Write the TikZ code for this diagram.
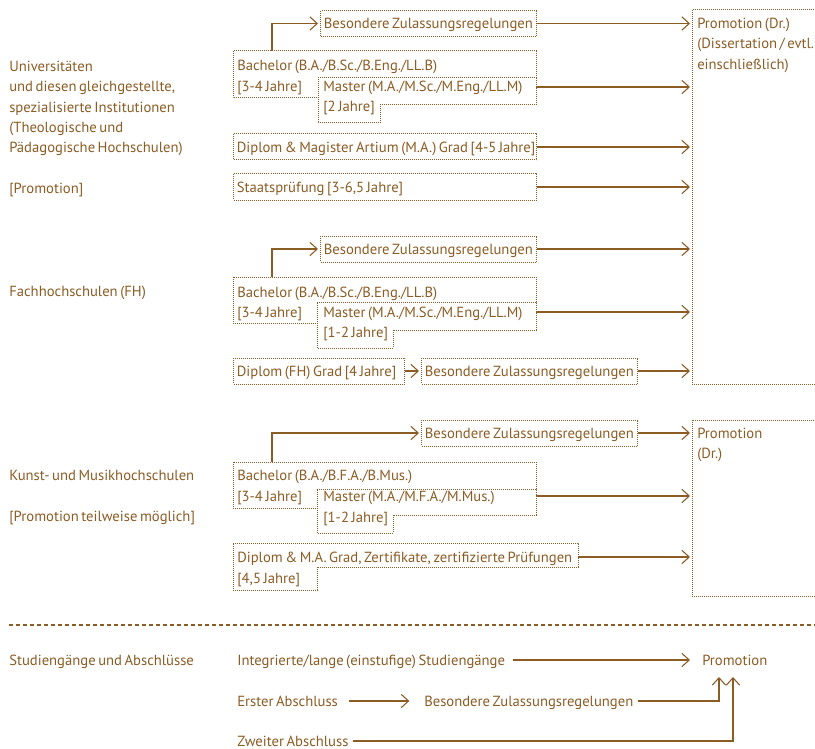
\documentclass[tikz,border=0pt]{standalone}
\usepackage{fontspec}
\setmainfont{PT Sans}[WordSpace=0.65]
\usetikzlibrary{arrows.meta}

\definecolor{kbrown}{RGB}{139,92,36}

\tikzset{
  every node/.style={font=\fontsize{11pt}{15.2pt}\selectfont, text=kbrown},
  txt/.style={anchor=west, inner sep=0pt, text height=7.5pt, text depth=0pt},
  block/.style={anchor=north west, inner sep=0pt, align=flush left},
  dotbox/.style={draw=kbrown, line width=0.75pt, dash pattern=on 0.75pt off 0.75pt,
    anchor=west, inner xsep=2.5pt, inner ysep=0pt, minimum height=19.5pt,
    text height=7.5pt, text depth=0pt, align=flush left, text width=#1},
  dotline/.style={draw=kbrown, line width=0.75pt, dash pattern=on 0.75pt off 0.75pt},
  arr/.style={draw=kbrown, line width=0.8pt, -{Straight Barb[length=5.5pt,width=10pt]}}
}

\begin{document}
\begin{tikzpicture}[x=0.75pt, y=-0.75pt]
		\useasboundingbox (0,0) rectangle (815,749);
		
		% Universitaeten
		\node[block] (uniLabel) at (9,61) {Universitäten\\und diesen gleichgestellte,\\spezialisierte Institutionen\\(Theologische und\\Pädagogische Hochschulen)\\[15.2pt]{[}Promotion]};
		
		\node[dotbox=157pt] (uniBes) at (320,23.5) {\mbox{Besondere Zulassungsregelungen}};
		\draw[dotline] (536,78) -- (536,51) -- (233,51) -- (233,98) -- (318,98);
		\draw[dotline] (318,78) -- (536,78) -- (536,105) -- (380,105) -- (380,123) -- (318,123) -- cycle;
		\node[txt] (uniBach) at (237,66) {Bachelor (B.A./B.Sc./B.Eng./LL.B)};
		\node[txt] (uniBachY) at (237,87) {[3-4 Jahre]};
		\node[txt] (uniMast) at (323,87) {Master (M.A./M.Sc./M.Eng./LL.M)};
		\node[txt] (uniMastY) at (323,107) {[2 Jahre]};
		\node[dotbox=222.25pt] (uniDipl) at (233,147) {\mbox{Diplom \& Magister Artium (M.A.) Grad [4-5 Jahre]}};
		\node[dotbox=222.25pt] (uniStaat) at (233,187) {\mbox{Staatsprüfung [3-6,5 Jahre]}};
		
		\draw[dotline] (830,10) -- (692,10) -- (692,384) -- (830,384);
		\node[block] (promA) at (697,18) {Promotion (Dr.)\\(Dissertation / evtl.\\einschließlich)};
		\coordinate (promAin) at (690,10);
		\coordinate (uniBachN) at (272,51);
		\coordinate (uniMastE) at (536,87);
		
		\draw[arr, shorten >=1.5pt] (uniBachN) |- (uniBes.west);
		\draw[arr] (uniBes.east) -- (uniBes.east -| promAin);
		\draw[arr] (uniMastE) -- (uniMastE -| promAin);
		\draw[arr] (uniDipl.east) -- (uniDipl.east -| promAin);
		\draw[arr] (uniStaat.east) -- (uniStaat.east -| promAin);
		
		% Fachhochschulen
		\node[txt] (fhLabel) at (9,291) {Fachhochschulen (FH)};
		
		\node[dotbox=157pt] (fhBes) at (320,249) {\mbox{Besondere Zulassungsregelungen}};
		\draw[dotline] (536,302) -- (536,277) -- (233,277) -- (233,323) -- (317,323);
		\draw[dotline] (317,302) -- (536,302) -- (536,330) -- (393,330) -- (393,348) -- (317,348) -- cycle;
		\node[txt] (fhBach) at (237,292) {Bachelor (B.A./B.Sc./B.Eng./LL.B)};
		\node[txt] (fhBachY) at (237,312) {[3-4 Jahre]};
		\node[txt] (fhMast) at (323,312) {Master (M.A./M.Sc./M.Eng./LL.M)};
		\node[txt] (fhMastY) at (323,332) {[1-2 Jahre]};
		\node[dotbox=123.25pt] (fhDipl) at (233,371) {\mbox{Diplom (FH) Grad [4 Jahre]}};
		\node[dotbox=157pt] (fhBes2) at (421,371) {\mbox{Besondere Zulassungsregelungen}};
		\coordinate (fhBachN) at (272,277);
		\coordinate (fhMastE) at (536,312);
		
		\draw[arr, shorten >=1.5pt] (fhBachN) |- (fhBes.west);
		\draw[arr] (fhBes.east) -- (fhBes.east -| promAin);
		\draw[arr] (fhMastE) -- (fhMastE -| promAin);
		\draw[arr, shorten >=1.5pt] (fhDipl.east) -- (fhBes2.west);
		\draw[arr] (fhBes2.east) -- (fhBes2.east -| promAin);
		
		% Kunst- und Musikhochschulen
		\node[block] (kuLabel) at (9,470) {Kunst- und Musikhochschulen\\[15.2pt]{[}Promotion teilweise möglich]};
		
		\node[dotbox=157pt] (kuBes) at (421,433) {\mbox{Besondere Zulassungsregelungen}};
		\draw[dotline] (536,489) -- (536,462) -- (233,462) -- (233,508) -- (317,508);
		\draw[dotline] (317,489) -- (536,489) -- (536,515) -- (393,515) -- (393,533) -- (317,533) -- cycle;
		\node[txt] (kuBach) at (237,475) {Bachelor (B.A./B.F.A./B.Mus.)};
		\node[txt] (kuBachY) at (237,496) {[3-4 Jahre]};
		\node[txt] (kuMast) at (323,496) {Master (M.A./M.F.A./M.Mus.)};
		\node[txt] (kuMastY) at (323,517) {[1-2 Jahre]};
		\draw[dotline] (233,543) -- (578,543) -- (578,567) -- (317,567) -- (317,590) -- (233,590) -- cycle;
		\node[txt] (kuDipl) at (237,557) {Diplom \& M.A. Grad, Zertifikate, zertifizierte Prüfungen};
		\node[txt] (kuDiplY) at (237,578) {[4,5 Jahre]};
		
		\draw[dotline] (830,420) -- (692,420) -- (692,596) -- (830,596);
		\node[block] (promB) at (697,428) {Promotion\\(Dr.)};
		\coordinate (promBin) at (690,420);
		\coordinate (kuBachN) at (272,462);
		\coordinate (kuMastE) at (536,496);
		\coordinate (kuDiplE) at (578,557);
		
		\draw[arr, shorten >=1.5pt] (kuBachN) |- (kuBes.west);
		\draw[arr] (kuBes.east) -- (kuBes.east -| promBin);
		\draw[arr] (kuMastE) -- (kuMastE -| promBin);
		\draw[arr] (kuDiplE) -- (kuDiplE -| promBin);
		
		% Legende
		\coordinate (sepL) at (9,625);
		\coordinate (sepR) at (815,625);
		\draw[kbrown, line width=0.8pt, dash pattern=on 3pt off 2.25pt] (sepL) -- (sepR);
		
		\node[txt] (legLabel) at (9,660) {Studiengänge und Abschlüsse};
		\node[txt] (integ) at (237,660) {Integrierte/lange (einstufige) Studiengänge};
		\node[txt] (promC) at (702,660) {Promotion};
		\node[txt] (erst) at (237,701) {Erster Abschluss};
		\node[txt] (besC) at (424,701) {Besondere Zulassungsregelungen};
		\node[txt] (zweit) at (237,741) {Zweiter Abschluss};
		\coordinate (promIn1) at (719,677);
		\coordinate (promIn2) at (733,677);
		
		\draw[arr, shorten <=5.5pt, shorten >=9pt] (integ.east) -- (promC.west);
		\draw[arr, shorten <=8pt, shorten >=11pt] (erst.east) -- (besC.west);
		\draw[arr, shorten <=3pt] (besC.east) -| (promIn1);
		\draw[arr, shorten <=3pt] (zweit.east) -| (promIn2);
	\end{tikzpicture}
\end{document}
